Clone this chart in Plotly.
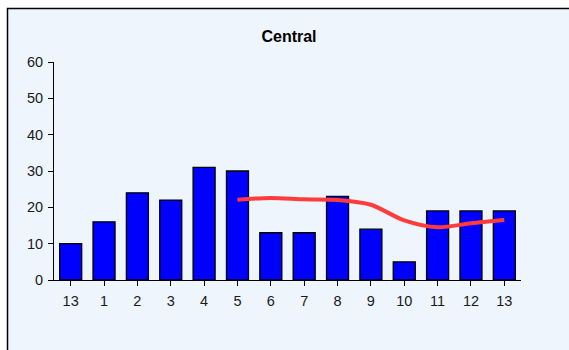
import plotly.graph_objects as go

# Period labels along the x axis (the first and last are both period 13)
periods = ["13", "1", "2", "3", "4", "5", "6", "7", "8", "9", "10", "11", "12", "13"]
counts = [10, 16, 24, 22, 31, 30, 13, 13, 23, 14, 5, 19, 19, 19]
# Moving average, available from period 5 onwards
avg_start = 5
avg_values = [22.1, 22.6, 22.2, 22.0, 20.7, 16.4, 14.5, 15.6, 16.5]

W, H = 569, 350
pos = list(range(len(periods)))

fig = go.Figure()
fig.add_trace(go.Bar(
    x=pos, y=counts,
    marker=dict(color="#0000FF", line=dict(color="#000000", width=1.3)),
    width=0.66,
    hoverinfo="y",
))
fig.add_trace(go.Scatter(
    x=pos[avg_start:], y=avg_values,
    mode="lines",
    line=dict(color="#FF3B3B", width=4, shape="spline", smoothing=0.8),
))

# Framed panel background
fig.add_shape(
    type="rect", xref="paper", yref="paper", layer="below",
    x0=(7.5 - 54) / (W - 54 - 48), x1=1.2,
    y0=-0.5, y1=1 + (62 - 8.5) / (280 - 62),
    fillcolor="#EEF5FC", line=dict(color="#000000", width=1.5),
)

fig.update_layout(
    width=W, height=H,
    margin=dict(l=54, r=48, t=62, b=70, pad=0),
    paper_bgcolor="#FFFFFF",
    plot_bgcolor="rgba(0,0,0,0)",
    showlegend=False,
    title=dict(text="<b>Central</b>", x=289 / W,
               xanchor="center", y=1 - 36 / H, yanchor="middle",
               font=dict(family="Arial, Liberation Sans", size=16, color="#000000")),
    font=dict(family="Arial, Liberation Sans", size=14, color="#1A1A1A"),
)
fig.update_xaxes(
    range=[-0.5, len(periods) - 0.5],
    tickmode="array", tickvals=pos, ticktext=periods,
    ticks="outside", ticklen=5, tickwidth=1, tickcolor="#000000",
    tickson="boundaries", ticklabelstandoff=3,
    showline=True, linecolor="#000000", linewidth=1,
    showgrid=False, zeroline=False,
    tickfont=dict(size=14.5),
)
fig.update_yaxes(
    range=[0, 60], dtick=10,
    ticks="outside", ticklen=5, tickwidth=1, tickcolor="#000000",
    ticklabelstandoff=2,
    showline=True, linecolor="#000000", linewidth=1,
    showgrid=False, zeroline=False,
    tickfont=dict(size=14.5),
)

fig.write_html("out.html")
